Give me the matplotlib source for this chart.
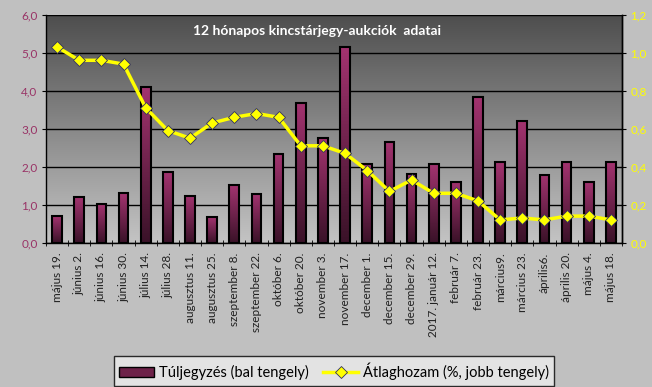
import numpy as np
import matplotlib

matplotlib.use("Agg")
import matplotlib.pyplot as plt
from matplotlib.colors import LinearSegmentedColormap
from matplotlib.patches import Patch
from matplotlib.lines import Line2D

plt.rcParams["font.family"] = ["Lato", "DejaVu Sans"]

# --- data --------------------------------------------------------------------------
dates = [
    "május 19.", "június 2.", "június 16.", "június 30.", "július 14.", "július 28.",
    "augusztus 11.", "augusztus 25.", "szeptember 8.", "szeptember 22.", "október 6.",
    "október 20.", "november 3.", "november 17.", "december 1.", "december 15.",
    "december 29.", "2017. január 12.", "február 7.", "február 23.", "március9.",
    "március 23.", "április6.", "április 20.", "május 4.", "május 18.",
]
oversubscription = [
    0.70, 1.20, 1.01, 1.31, 4.10, 1.86, 1.24, 0.68, 1.52, 1.27, 2.34, 3.67, 2.76,
    5.15, 2.07, 2.66, 1.80, 2.07, 1.61, 3.84, 2.12, 3.21, 1.79, 2.12, 1.61, 2.12,
]
avg_yield = [
    1.03, 0.96, 0.96, 0.94, 0.71, 0.59, 0.55, 0.63, 0.66, 0.68, 0.66, 0.51, 0.51,
    0.47, 0.38, 0.27, 0.33, 0.26, 0.26, 0.22, 0.12, 0.13, 0.12, 0.14, 0.14, 0.12,
]

left_ticks = np.arange(0, 6.01, 1.0)
right_ticks = np.arange(0, 1.21, 0.2)

fig = plt.figure(figsize=(6.52, 3.87), dpi=100)
fig.patch.set_facecolor("#c0c0c0")
ax = fig.add_axes([46 / 652, 1 - 242.7 / 387, 576 / 652, 228 / 387])
ax2 = ax.twinx()

x = np.arange(len(dates))
ax.set_xlim(-0.5, len(dates) - 0.5)
ax.set_ylim(0, 6)
ax2.set_ylim(0, 1.2)

# plot area gradient: dark grey at top, light grey at bottom
bg = LinearSegmentedColormap.from_list("bg", ["#c4c4c4", "#4e4e4e"])
ax.imshow(np.linspace(0, 1, 256).reshape(-1, 1), cmap=bg, origin="lower",
          extent=(-0.5, len(dates) - 0.5, 0, 6), aspect="auto", zorder=0)

ax.set_yticks(left_ticks)
ax.grid(axis="y", color="black", lw=1, zorder=1)
ax.set_axisbelow(True)

# bars with a vertical magenta gradient
bars = ax.bar(x, oversubscription, width=0.44, color="#7a2a55", edgecolor="black",
              lw=1.5, zorder=2)
bar_cmap = LinearSegmentedColormap.from_list("bar", ["#3a1228", "#a2336f"])
for b in bars:
    x0, w, h = b.get_x(), b.get_width(), b.get_height()
    im = ax.imshow(np.linspace(0, 1, 64).reshape(-1, 1), cmap=bar_cmap, origin="lower",
                   extent=(x0, x0 + w, 0, h), aspect="auto", zorder=2)
    im.set_clip_path(b)
    b.set_facecolor("none")
    b.set_zorder(3)
ax.set_xlim(-0.5, len(dates) - 0.5)
ax.set_ylim(0, 6)

ax2.plot(x, avg_yield, color="#ffff00", lw=2.5, marker="D", ms=6,
         markerfacecolor="#ffff00", markeredgecolor="#303060", markeredgewidth=0.6,
         zorder=4)
ax2.set_yticks(right_ticks)

fmt = lambda v: f"{v:.1f}".replace(".", ",")
ax.set_yticklabels([fmt(v) for v in left_ticks], color="#993366", fontsize=8.5)
ax2.set_yticklabels([fmt(v) for v in right_ticks], color="#ffff00", fontsize=8.5)

ax.set_xticks(x)
ax.set_xticklabels(dates, rotation=90, fontsize=8.5, color="#202020")
ax.set_xticks(np.arange(-0.5, len(dates)), minor=True)
ax.tick_params(axis="x", which="major", length=0, pad=7)
ax.tick_params(axis="x", which="minor", length=4, direction="inout", color="black")
ax.tick_params(axis="y", length=3, color="black", pad=3)
ax2.tick_params(axis="y", length=3, color="black", pad=3)

for a in (ax, ax2):
    a.spines["top"].set_visible(False)
    for s in a.spines.values():
        s.set_color("black")
        s.set_linewidth(1)
ax2.spines["left"].set_visible(False)
ax2.spines["bottom"].set_visible(False)

ax.text(0.47, 0.93, "12 hónapos kincstárjegy-aukciók  adatai", transform=ax.transAxes,
        ha="center", va="center", color="white", fontsize=10, fontweight="bold")

handles = [
    Patch(facecolor="#6e2249", edgecolor="black", label="Túljegyzés (bal tengely)"),
    Line2D([], [], color="#ffff00", lw=2.5, marker="D", ms=6, markerfacecolor="#ffff00",
           markeredgecolor="#303060", markeredgewidth=0.6,
           label="Átlaghozam (%, jobb tengely)"),
]
leg = fig.legend(handles=handles, loc="center", bbox_to_anchor=(334 / 652, 1 - 371 / 387),
                 ncol=2, fontsize=10.5, frameon=True, fancybox=False, edgecolor="black",
                 handlelength=2.4, columnspacing=1.0, borderpad=0.4, handletextpad=0.3)
leg.get_frame().set_facecolor("#ececec")
leg.get_frame().set_linewidth(1)

fig.savefig("out.png", dpi=100, facecolor=fig.get_facecolor())
